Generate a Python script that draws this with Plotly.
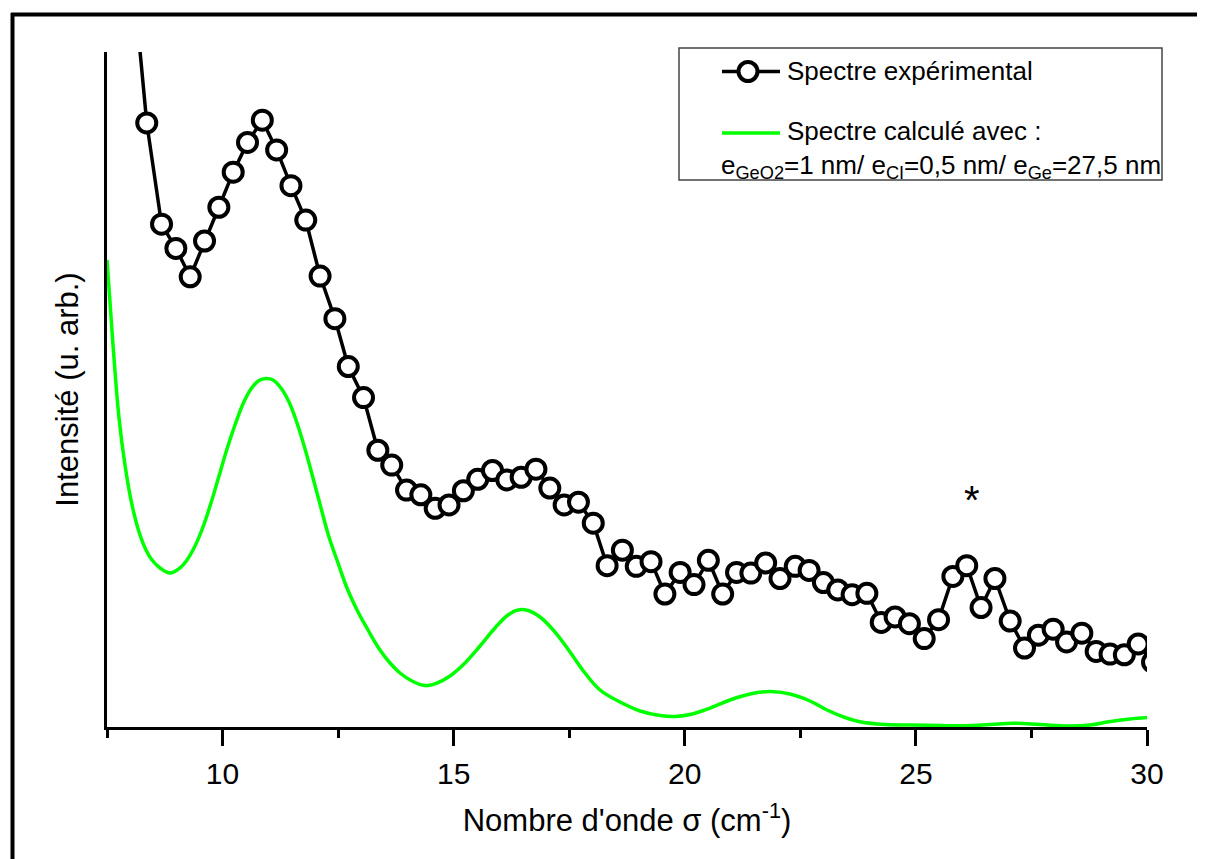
import plotly.graph_objects as go

# ---------------- data ----------------
exp_sigma = [8.05, 8.36, 8.68, 8.99, 9.30, 9.61, 9.92, 10.23, 10.54, 10.86, 11.17, 11.48,
             11.80, 12.11, 12.43, 12.72, 13.05, 13.36, 13.66, 13.98, 14.29, 14.60, 14.90,
             15.21, 15.52, 15.84, 16.15, 16.46, 16.78, 17.08, 17.39, 17.70, 18.02, 18.32,
             18.65, 18.95, 19.27, 19.57, 19.90, 20.20, 20.51, 20.82, 21.12, 21.43, 21.75,
             22.06, 22.39, 22.69, 23.00, 23.31, 23.62, 23.94, 24.25, 24.55, 24.86, 25.18,
             25.49, 25.80, 26.10, 26.41, 26.71, 27.04, 27.35, 27.65, 27.97, 28.26, 28.59,
             28.90, 29.20, 29.51, 29.81, 30.12]
exp_int = [112.1, 89.5, 74.5, 70.9, 66.7, 72.0, 77.0, 82.2, 86.6, 89.9, 85.5, 80.2,
           75.1, 66.8, 60.5, 53.4, 48.8, 41.0, 38.8, 35.1, 34.4, 32.4, 32.9,
           35.0, 36.7, 38.0, 36.6, 37.0, 38.2, 35.4, 32.9, 33.3, 30.2, 23.9,
           26.2, 23.8, 24.5, 19.7, 22.9, 21.1, 24.7, 19.7, 22.9, 22.8, 24.3,
           22.0, 23.8, 23.2, 21.4, 20.3, 19.6, 19.8, 15.5, 16.3, 15.3, 13.1,
           15.9, 22.3, 23.9, 17.7, 22.0, 15.7, 11.7, 13.6, 14.5, 12.6, 13.9,
           11.2, 10.8, 10.7, 12.3, 9.6]

calc_sigma = [7.500, 7.630, 7.760, 7.889, 8.041, 8.214, 8.344, 8.474, 8.647, 8.863, 9.079,
              9.231, 9.404, 9.577, 9.750, 9.923, 10.096, 10.269, 10.442, 10.615, 10.788,
              10.940, 11.091, 11.264, 11.438, 11.611, 11.784, 11.957, 12.130, 12.303, 12.498,
              12.692, 12.909, 13.147, 13.406, 13.623, 13.839, 14.099, 14.380, 14.640, 14.921,
              15.245, 15.570, 15.894, 16.176, 16.392, 16.609, 16.868, 17.193, 17.517, 17.841,
              18.166, 18.599, 19.031, 19.464, 19.788, 20.113, 20.546, 20.979, 21.411, 21.844,
              22.277, 22.709, 23.077, 23.467, 23.813, 24.332, 24.938, 25.522, 26.041, 26.604,
              27.101, 27.686, 28.291, 28.767, 29.178, 29.632, 30.000]
calc_int = [69.19, 56.59, 45.78, 38.81, 32.89, 28.44, 26.22, 24.74, 23.56, 22.81, 23.56,
            24.74, 26.81, 29.63, 33.19, 37.19, 41.19, 44.74, 47.85, 50.07, 51.33,
            51.63, 51.41, 50.22, 48.15, 45.04, 41.19, 36.89, 32.44, 28.15, 24.30,
            20.59, 17.33, 14.37, 11.41, 9.48, 8.00, 6.81, 6.15, 6.52, 7.56,
            9.48, 12.00, 14.67, 16.59, 17.33, 17.26, 16.30, 14.07, 11.11, 8.00,
            5.48, 3.70, 2.37, 1.70, 1.56, 1.85, 2.81, 4.00, 4.89, 5.26,
            4.89, 3.85, 2.52, 1.41, 0.74, 0.37, 0.30, 0.22, 0.19, 0.37,
            0.55, 0.37, 0.15, 0.30, 0.79, 1.19, 1.41]

x_range = [7.5, 30]
y_range = [0, 100]
x_ticks = [10, 15, 20, 25, 30]

legend_exp = "Spectre expérimental"
legend_calc = "Spectre calculé avec :"
legend_calc2 = "e<sub>GeO2</sub>=1 nm/ e<sub>CI</sub>=0,5 nm/ e<sub>Ge</sub>=27,5 nm"
x_title = "Nombre d'onde σ (cm<sup>-1</sup>)"
y_title = "Intensité (u. arb.)"
star_sigma, star_int = 26.21, 33.6

FONT = "Liberation Sans, Arial, sans-serif"
OFF = 8  # page body margin
W, H = 1205, 859
L, R, T, B = 99, 66, 44, 140
PW, PH = W - L - R, H - T - B


def px(xs):
    """screen x (reference pixels) -> paper x"""
    return (xs - OFF - L) / PW


def py(ys):
    """screen y (reference pixels) -> paper y"""
    return (H - B - (ys - OFF)) / PH


fig = go.Figure()
fig.add_trace(go.Scatter(
    x=calc_sigma, y=calc_int, mode="lines",
    line=dict(color="#00ff00", width=3.5, shape="spline", smoothing=1.1),
    showlegend=False, hoverinfo="skip"))
fig.add_trace(go.Scatter(
    x=exp_sigma, y=exp_int, mode="lines+markers",
    line=dict(color="black", width=3.5),
    marker=dict(symbol="circle", size=19, color="white", line=dict(color="black", width=4)),
    showlegend=False, cliponaxis=True))

shapes = []
# outer frame (top and left)
shapes.append(dict(type="line", xref="paper", yref="paper", x0=px(11), x1=px(1230), y0=py(14.5), y1=py(14.5),
                   line=dict(color="black", width=4)))
shapes.append(dict(type="line", xref="paper", yref="paper", x0=px(12.5), x1=px(12.5), y0=py(13), y1=py(880),
                   line=dict(color="black", width=4)))
# legend box
shapes.append(dict(type="rect", xref="paper", yref="paper", x0=px(679), x1=px(1162), y0=py(48), y1=py(180),
                   line=dict(color="#444444", width=1.5), fillcolor="white", layer="above"))
# legend samples
shapes.append(dict(type="line", xref="paper", yref="paper", x0=px(722), x1=px(780), y0=py(71.5), y1=py(71.5),
                   line=dict(color="black", width=3.5), layer="above"))
shapes.append(dict(type="circle", xref="paper", yref="paper", xsizemode="pixel", ysizemode="pixel",
                   xanchor=px(748), yanchor=py(71.5), x0=-9.5, x1=9.5, y0=-9.5, y1=9.5,
                   line=dict(color="black", width=4), fillcolor="white", layer="above"))
shapes.append(dict(type="line", xref="paper", yref="paper", x0=px(722), x1=px(780), y0=py(133), y1=py(133),
                   line=dict(color="#00ff00", width=3.5), layer="above"))

annotations = [
    dict(text=legend_exp, xref="paper", yref="paper", x=px(785), y=py(71), xanchor="left", yanchor="middle",
         showarrow=False, font=dict(family=FONT, size=26, color="black")),
    dict(text=legend_calc, xref="paper", yref="paper", x=px(785), y=py(131), xanchor="left", yanchor="middle",
         showarrow=False, font=dict(family=FONT, size=26, color="black")),
    dict(text=legend_calc2, xref="paper", yref="paper", x=px(719), y=py(166), xanchor="left", yanchor="middle",
         showarrow=False, font=dict(family=FONT, size=26, color="black")),
    dict(text="*", x=star_sigma, y=star_int, xref="x", yref="y", showarrow=False, xanchor="center",
         yanchor="middle", font=dict(family=FONT, size=40, color="black")),
]

fig.update_layout(
    width=W, height=H,
    margin=dict(l=L, r=R, t=T, b=B, pad=0),
    paper_bgcolor="white", plot_bgcolor="white",
    font=dict(family=FONT, size=30, color="black"),
    showlegend=False,
    shapes=shapes,
    annotations=annotations,
    xaxis=dict(range=x_range, showgrid=False, zeroline=False, showline=True, linecolor="black", linewidth=3,
               ticks="outside", ticklen=16, tickwidth=3, tickcolor="black", tickvals=x_ticks,
               minor=dict(ticks="outside", ticklen=8, tickwidth=3, tickcolor="black", dtick=2.5, tick0=7.5),
               tickfont=dict(family=FONT, size=30), ticklabelstandoff=2,
               title=dict(text=x_title, font=dict(family=FONT, size=31), standoff=21)),
    yaxis=dict(range=y_range, showgrid=False, zeroline=False, showline=True, linecolor="black", linewidth=3,
               ticks="", showticklabels=False,
               title=dict(text=y_title, font=dict(family=FONT, size=31), standoff=17)),
)

fig.write_html("out.html")
